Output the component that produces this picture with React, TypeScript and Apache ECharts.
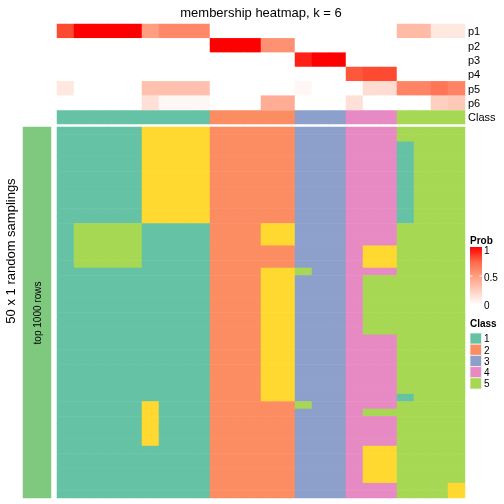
import React, { useEffect, useRef } from "react";
import * as echarts from "echarts";

// ---- data ----
const sampleIds = ["1","2","3","4","5","6","7","8","9","10","11","12","13","14","15","16","17","18","19","20","21","22","23","24"];
const probRows = ["p1", "p2", "p3", "p4", "p5", "p6"];
const p1 = [0.82, 1, 1, 1, 1, 0.5, 0.6, 0.6, 0.6, 0, 0, 0, 0, 0, 0, 0, 0, 0, 0, 0, 0.35, 0.35, 0.12, 0.12];
const p2 = [0, 0, 0, 0, 0, 0, 0, 0, 0, 1, 1, 1, 0.56, 0.56, 0, 0, 0, 0, 0, 0, 0, 0, 0, 0];
const p3 = [0, 0, 0, 0, 0, 0, 0, 0, 0, 0, 0, 0, 0, 0, 0.92, 1, 1, 0, 0, 0, 0, 0, 0, 0];
const p4 = [0, 0, 0, 0, 0, 0, 0, 0, 0, 0, 0, 0, 0, 0, 0, 0, 0, 0.79, 0.82, 0.82, 0, 0, 0, 0];
const p5 = [0.12, 0, 0, 0, 0, 0.32, 0.32, 0.32, 0.32, 0, 0, 0, 0, 0, 0.04, 0, 0, 0, 0.18, 0.18, 0.62, 0.62, 0.68, 0.62];
const p6 = [0, 0, 0, 0, 0, 0.16, 0.04, 0.04, 0.04, 0, 0, 0, 0.42, 0.42, 0, 0, 0, 0.16, 0, 0, 0, 0, 0.25, 0.28];
const sampleClass = [1, 1, 1, 1, 1, 1, 1, 1, 1, 2, 2, 2, 2, 2, 3, 3, 3, 4, 4, 4, 5, 5, 5, 5];
// 50 random samplings (rows) x 24 samples (columns), class per cell
const samplingRows = [
  "111116666222223334445555",
  "111116666222223334445555",
  "111116666222223334441555",
  "111116666222223334441555",
  "111116666222223334441555",
  "111116666222223334441555",
  "111116666222223334441555",
  "111116666222223334441555",
  "111116666222223334441555",
  "111116666222223334441555",
  "111116666222223334441555",
  "111116666222223334441555",
  "111116666222223334441555",
  "155551111222663334445555",
  "155551111222663334445555",
  "155551111222663334445555",
  "155551111222223334665555",
  "155551111222223334665555",
  "155551111222223334665555",
  "111111111222665334445555",
  "111111111222663334555555",
  "111111111222663334555555",
  "111111111222663334555555",
  "111111111222663334555555",
  "111111111222663334555555",
  "111111111222663334555555",
  "111111111222663334555555",
  "111111111222663334555555",
  "111111111222663334445555",
  "111111111222663334445555",
  "111111111222663334445555",
  "111111111222663334445555",
  "111111111222663334445555",
  "111111111222663334445555",
  "111111111222663334445555",
  "111111111222663334445555",
  "111111111222663334441555",
  "111116111222225334445555",
  "111116111222223334555555",
  "111116111222223334445555",
  "111116111222223334445555",
  "111116111222223334445555",
  "111116111222223334445555",
  "111111111222223334665555",
  "111111111222223334665555",
  "111111111222223334665555",
  "111111111222223334665555",
  "111111111222223334665555",
  "111111111222223334445556",
  "111111111222223334445556",
];
const classLegend = ["1", "2", "3", "4", "5"];
const classValues = [1, 2, 3, 4, 5, 6];
const classColors = ["#66C2A5", "#FC8D62", "#8DA0CB", "#E78AC3", "#A6D854", "#FFD92F"];
const probStops = ["#FFFFFF", "#FFCFBF", "#FF9E81", "#FF6746", "#FF0000"];
const probTicks = ["1", "0.5", "0"];
const annotationColor = "#7FC97F";

const FONT = "'Liberation Sans', Arial, Helvetica, sans-serif";

export default function App() {
  const ref = useRef<HTMLDivElement>(null);
  useEffect(() => {
    if (!ref.current) return;
    const chart = echarts.init(ref.current, undefined, { renderer: "svg" });
    const probMatrix = [p1, p2, p3, p4, p5, p6];
    const probData: number[][] = [];
    probMatrix.forEach((row, r) => row.forEach((v, c) => probData.push([c, r, v])));
    const classData = sampleClass.map((v, c) => [c, 0, v]);
    const mainData: number[][] = [];
    samplingRows.forEach((row, r) => {
      for (let c = 0; c < row.length; c++) mainData.push([c, r, Number(row[c])]);
    });
    const rowIds = samplingRows.map((_, i) => String(i + 1));

    const L = 57, W = 408;
    const hiddenX = (idx: number) => ({
      type: "category", gridIndex: idx, data: sampleIds, show: false,
    });
    const labelAxis = {
      axisLine: { show: false }, axisTick: { show: false },
      axisLabel: { fontSize: 11, color: "#000", margin: 3, fontFamily: FONT },
      splitLine: { show: false }, splitArea: { show: false },
    };

    const legendX = 470;
    const classBoxes = classLegend.map((lab, i) => ({
      type: "group",
      children: [
        { type: "rect", shape: { x: legendX, y: 333 + i * 11.2, width: 11.5, height: 11.2 },
          style: { fill: classColors[i], stroke: "#F2F2F2", lineWidth: 0.8 } },
        { type: "text", x: 484, y: 333 + i * 11.2 + 5.8,
          style: { text: lab, font: `10px ${FONT}`, fill: "#000", textVerticalAlign: "middle", verticalAlign: "middle" } },
      ],
    }));

    chart.setOption({
      animation: false,
      grid: [
        { left: L, width: W, top: 24, height: 86 },
        { left: L, width: W, top: 110.5, height: 13.5 },
        { left: L, width: W, top: 127, height: 371 },
        { left: 23, width: 28, top: 127, height: 371 },
      ],
      xAxis: [hiddenX(0), hiddenX(1), hiddenX(2),
        { type: "category", gridIndex: 3, data: ["a"], show: false }],
      yAxis: [
        { type: "category", gridIndex: 0, data: probRows, inverse: true, position: "right", ...labelAxis },
        { type: "category", gridIndex: 1, data: ["Class"], position: "right", ...labelAxis },
        { type: "category", gridIndex: 2, data: rowIds, inverse: true, show: false },
        { type: "category", gridIndex: 3, data: ["top 1000 rows"], show: false },
      ],
      visualMap: [
        { type: "continuous", show: false, seriesIndex: 0, dimension: 2, min: 0, max: 1,
          inRange: { color: probStops } },
        { type: "piecewise", show: false, seriesIndex: [1, 2], dimension: 2,
          pieces: classValues.map((v, i) => ({ value: v, color: classColors[i] })) },
        { type: "piecewise", show: false, seriesIndex: 3, dimension: 2,
          pieces: [{ value: 1, color: annotationColor }] },
      ],
      series: [
        { type: "heatmap", xAxisIndex: 0, yAxisIndex: 0, data: probData, emphasis: { disabled: true } },
        { type: "heatmap", xAxisIndex: 1, yAxisIndex: 1, data: classData, emphasis: { disabled: true } },
        { type: "heatmap", xAxisIndex: 2, yAxisIndex: 2, data: mainData, emphasis: { disabled: true } },
        { type: "heatmap", xAxisIndex: 3, yAxisIndex: 3, data: [[0, 0, 1]], emphasis: { disabled: true } },
      ],
      graphic: [
        { type: "text", x: 261, y: 12,
          style: { text: "membership heatmap, k = 6", font: `13px ${FONT}`, fill: "#000",
            textAlign: "center", align: "center", textVerticalAlign: "middle", verticalAlign: "middle" } },
        { type: "text", x: 10, y: 251, rotation: Math.PI / 2,
          style: { text: "50 x 1 random samplings", font: `13px ${FONT}`, fill: "#000",
            textAlign: "center", align: "center", textVerticalAlign: "middle", verticalAlign: "middle" } },
        { type: "text", x: 37.5, y: 313, rotation: Math.PI / 2, z: 10,
          style: { text: "top 1000 rows", font: `10px ${FONT}`, fill: "#000",
            textAlign: "center", align: "center", textVerticalAlign: "middle", verticalAlign: "middle" } },
        { type: "text", x: legendX, y: 240,
          style: { text: "Prob", font: `bold 10px ${FONT}`, fill: "#000", textVerticalAlign: "middle", verticalAlign: "middle" } },
        { type: "rect", shape: { x: legendX, y: 247, width: 12, height: 58 },
          style: { fill: { type: "linear", x: 0, y: 0, x2: 0, y2: 1, colorStops: [
            { offset: 0, color: probStops[4] }, { offset: 0.25, color: probStops[3] },
            { offset: 0.5, color: probStops[2] }, { offset: 0.75, color: probStops[1] },
            { offset: 1, color: probStops[0] } ] } } },
        { type: "line", shape: { x1: legendX, y1: 276, x2: legendX + 2.5, y2: 276 }, style: { stroke: "#fff", lineWidth: 1 } },
        { type: "line", shape: { x1: legendX + 9.5, y1: 276, x2: legendX + 12, y2: 276 }, style: { stroke: "#fff", lineWidth: 1 } },
        ...probTicks.map((t, i) => ({ type: "text", x: 484, y: 250 + i * 27.5,
          style: { text: t, font: `10px ${FONT}`, fill: "#000", textVerticalAlign: "middle", verticalAlign: "middle" } })),
        { type: "text", x: legendX, y: 323,
          style: { text: "Class", font: `bold 10px ${FONT}`, fill: "#000", textVerticalAlign: "middle", verticalAlign: "middle" } },
        ...classBoxes,
      ],
    });
    return () => chart.dispose();
  }, []);
  return <div ref={ref} style={{ position: "fixed", left: 0, top: 0, width: 504, height: 504 }} />;
}
